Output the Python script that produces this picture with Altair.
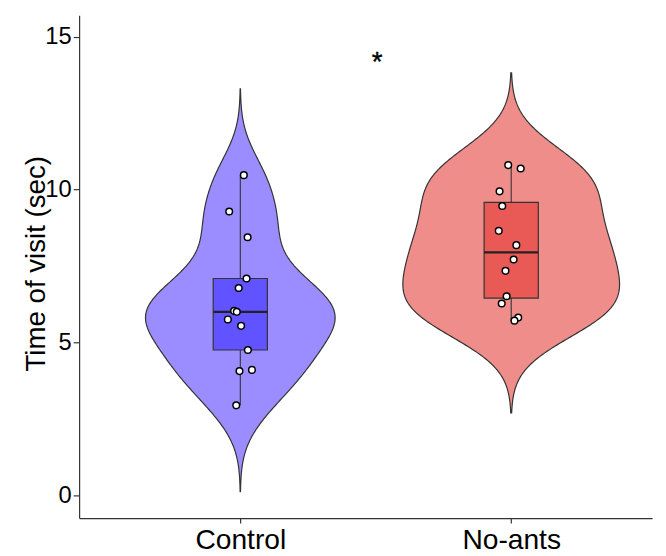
import altair as alt
import numpy as np
import pandas as pd

groups = ["Control", "No-ants"]
control_vals = [10.47, 9.28, 8.44, 7.09, 6.78, 6.03, 6.00, 5.75, 5.54, 4.75, 4.06, 4.10, 2.94]
control_jitter = [0.013, -0.041, 0.027, 0.023, -0.006, -0.023, -0.013, -0.046, 0.003, 0.028, -0.003, 0.043, -0.015]
noants_vals = [10.80, 10.69, 9.94, 9.46, 8.65, 8.18, 7.71, 7.34, 6.51, 6.27, 5.81, 5.71]
noants_jitter = [-0.011, 0.035, -0.043, -0.033, -0.046, 0.019, 0.009, -0.021, -0.017, -0.035, 0.026, 0.012]
violin_halfwidth = [0.35, 0.40]
violin_fill = ["#9b8cff", "#ef8d8a"]
box_fill = ["#6153ff", "#e95a56"]
signif_label = "*"

FONT = "Liberation Sans"

values = [control_vals, noants_vals]
jitters = [control_jitter, noants_jitter]

rows = []
for i, g in enumerate(groups):
    for v, j in zip(values[i], jitters[i]):
        rows.append({"group": g, "idx": i + 1, "v": v, "jx": i + 1 + j})
pts = pd.DataFrame(rows)

vrows = []
for i, g in enumerate(groups):
    x = np.array(values[i])
    n = len(x)
    q75, q25 = np.percentile(x, [75, 25])
    bw = 0.9 * min(x.std(ddof=1), (q75 - q25) / 1.34) * n ** (-0.2)
    grid = np.linspace(x.min() - 3 * bw, x.max() + 3 * bw, 256)
    dens = np.exp(-0.5 * ((grid[:, None] - x[None, :]) / bw) ** 2).sum(1) / (n * bw * np.sqrt(2 * np.pi))
    w = dens / dens.max() * violin_halfwidth[i]
    for gy, ww in zip(grid, w):
        vrows.append({"group": g, "v": gy, "lo": i + 1 - ww, "hi": i + 1 + ww})
vdf = pd.DataFrame(vrows)

xscale = alt.Scale(domain=[0.405, 2.52], nice=False, zero=False)
yscale = alt.Scale(domain=[-0.75, 15.7], nice=False, zero=False)

xaxis = alt.Axis(values=[1, 2], labelExpr="datum.value == 1 ? 'Control' : 'No-ants'",
                 title=None, grid=False, labelFontSize=28.5, labelFont=FONT, labelColor="black",
                 labelBaseline="alphabetic", tickSize=5, labelPadding=26,
                 domainColor="#333333", tickColor="#333333", domainWidth=1.2, tickWidth=1.2)
yaxis = alt.Axis(values=[0, 5, 10, 15], title="Time of visit (sec)", grid=False,
                 labelFontSize=24, labelFont=FONT, labelColor="black", labelPadding=2,
                 titleFontSize=28, titleFont=FONT, titleFontWeight="normal", titleColor="black",
                 titleX=-35, titleY=251, titleAngle=270, titleAlign="center",
                 titleBaseline="alphabetic",
                 tickSize=6, domainColor="#333333",
                 tickColor="#333333", domainWidth=1.2, tickWidth=1.2)


def X(field, **kw):
    return alt.X(field, scale=xscale, axis=xaxis, **kw)


def Y(field, **kw):
    return alt.Y(field, scale=yscale, axis=yaxis, **kw)


layers = []
for i, g in enumerate(groups):
    layers.append(
        alt.Chart(vdf).transform_filter(alt.datum.group == g).mark_area(
            orient="horizontal", stroke="#333333", strokeWidth=1.2, fill=violin_fill[i], fillOpacity=1
        ).encode(
            y=Y("v:Q", sort=None),
            x=X("lo:Q", stack=None),
            x2="hi:Q",
        )
    )

base = alt.Chart(pts).transform_aggregate(
    q1="q1(v)", med="median(v)", q3="q3(v)", vmin="min(v)", vmax="max(v)", groupby=["group", "idx"]
).transform_calculate(bx1="datum.idx - 0.1", bx2="datum.idx + 0.1")

whisk = base.mark_rule(color="#333333", strokeWidth=1.1).encode(
    x=X("idx:Q"), y=Y("vmin:Q"), y2="vmax:Q")
layers.append(whisk)
for i, g in enumerate(groups):
    layers.append(base.transform_filter(alt.datum.group == g).mark_rect(
        stroke="#333333", strokeWidth=1.2, fill=box_fill[i]).encode(
        x=X("bx1:Q"), x2="bx2:Q",
        y=Y("q1:Q"), y2="q3:Q"))
med = base.mark_rule(color="#222222", strokeWidth=2.2).encode(
    x=X("bx1:Q"), x2="bx2:Q", y=Y("med:Q"))
layers.append(med)

points = alt.Chart(pts).mark_point(filled=True, fill="white", stroke="black", strokeWidth=1.5,
                                   size=45, opacity=1).encode(
    x=X("jx:Q"), y=Y("v:Q"))
layers.append(points)

star_df = pd.DataFrame({"x": [1.505], "y": [14.15], "t": [signif_label]})
star = alt.Chart(star_df).mark_text(fontSize=28, font=FONT, color="black", baseline="middle",
                                    stroke="black", strokeWidth=0.4).encode(
    x=X("x:Q"), y=Y("y:Q"), text="t:N")
layers.append(star)

chart = alt.layer(*layers).properties(
    width=580, height=509,
    autosize=alt.AutoSizeParams(type="none"),
    padding={"left": 72, "top": 4, "right": 6, "bottom": 40},
).configure_view(stroke=None)

chart.save("out.html", embed_options={"renderer": "svg", "actions": False})
